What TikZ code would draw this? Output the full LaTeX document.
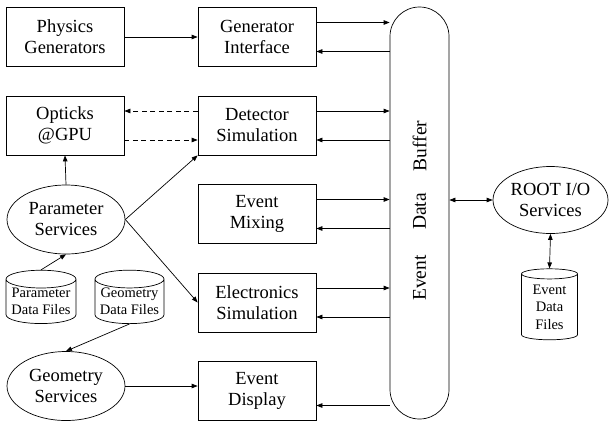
\documentclass[tikz,border=0pt]{standalone}
\usepackage{fontspec}
\setmainfont{Liberation Serif}
\usetikzlibrary{shapes.geometric,arrows.meta,calc}
\tikzset{
  box/.style={draw, line width=0.7pt, minimum width=118, minimum height=59, inner sep=0pt, align=center, font=\fontsize{18.5}{21}\selectfont},
  oval/.style={draw, ellipse, line width=0.7pt, minimum width=118, minimum height=69, inner sep=0pt, align=center, font=\fontsize{18.5}{21}\selectfont},
  db/.style={draw, cylinder, shape border rotate=90, aspect=0.3, line width=0.7pt, inner sep=0pt, align=center, font=\fontsize{14.5}{16.7}\selectfont},
  arr/.style={line width=0.7pt, -{Triangle[length=6pt,width=4.5pt]}},
  darr/.style={line width=0.7pt, {Triangle[length=6pt,width=4.5pt]}-{Triangle[length=6pt,width=4.5pt]}},
  dasharr/.style={arr, dash pattern=on 5pt off 3.5pt},
  bufftext/.style={rotate=90, inner sep=0pt, font=\fontsize{19.5}{21}\selectfont}
}
\begin{document}
\begin{tikzpicture}[x=1pt,y=-1pt]
\useasboundingbox (0,0) rectangle (609,421);
% left column boxes
\node[box] (phys) at (65,37) {Physics\\Generators};
\node[box] (opt) at (65,125.5) {Opticks\\@GPU};
% middle column
\node[box] (gen) at (257,37) {Generator\\Interface};
\node[box] (det) at (257,125.5) {Detector\\Simulation};
\node[box] (mix) at (257,214) {Event\\Mixing};
\node[box] (ele) at (257,302.5) {Electronics\\Simulation};
\node[box] (disp) at (257,391) {Event\\Display};
% services
\node[oval] (ps) at (66,219.5) {Parameter\\Services};
\node[oval] (gs) at (66,386) {Geometry\\Services};
\node[db, minimum width=70, minimum height=49] (pdf) at (41,301.5) {Parameter\\Data Files};
\node[db, minimum width=69, minimum height=49] (gdf) at (129.5,301.5) {Geometry\\Data Files};
% buffer
\node[draw, line width=0.7pt, rounded corners=29.5, minimum width=59, minimum height=412, inner sep=0pt] (buf) at (419.5,213) {};
\node[bufftext] (tb) at (419.5,146) {Buffer};
\node[bufftext] (td) at (419.5,211.5) {Data};
\node[bufftext] (te) at (419.5,278) {Event};
% ROOT
\node[oval, minimum width=115, minimum height=67] (root) at (550.5,200) {ROOT I/O\\Services};
\node[db, minimum width=56, minimum height=71, font=\fontsize{14.5}{17.5}\selectfont] (edf) at (549.5,307) {Event\\Data\\Files};
% connectors
\draw[arr] (phys.east) -- (gen.west);
\coordinate (o1) at ($(opt.east)+(0,-14.5)$);
\coordinate (o2) at ($(opt.east)+(0,14.5)$);
\draw[dasharr] (o1 -| det.west) -- (o1);
\draw[dasharr] (o2) -- (o2 -| det.west);
\draw[arr] (ps.north) -- (opt.south);
\draw[arr] (ps.east) -- (det.south west);
\draw[arr] (ps.east) -- (ele.west);
\draw[arr] (pdf.north) -- (ps.south);
\draw[arr] (gdf.south) -- (gs.north);
\draw[arr] (gs.east) -- (gs.east -| disp.west);
% to and from buffer
\foreach \n in {gen,det,mix,ele}{
  \coordinate (\n a) at ($(\n.east)+(0,-14.5)$);
  \coordinate (\n b) at ($(\n.east)+(0,14.5)$);
  \draw[arr] (\n a) -- (\n a -| buf.west);
  \draw[arr] (\n b -| buf.west) -- (\n b);
}
\coordinate (dispb) at ($(disp.east)+(0,14.5)$);
\draw[arr] (dispb -| buf.west) -- (dispb);
\draw[darr] (root.west -| buf.east) -- (root.west);
\draw[darr] (root.south) -- (edf.north);
\end{tikzpicture}
\end{document}
